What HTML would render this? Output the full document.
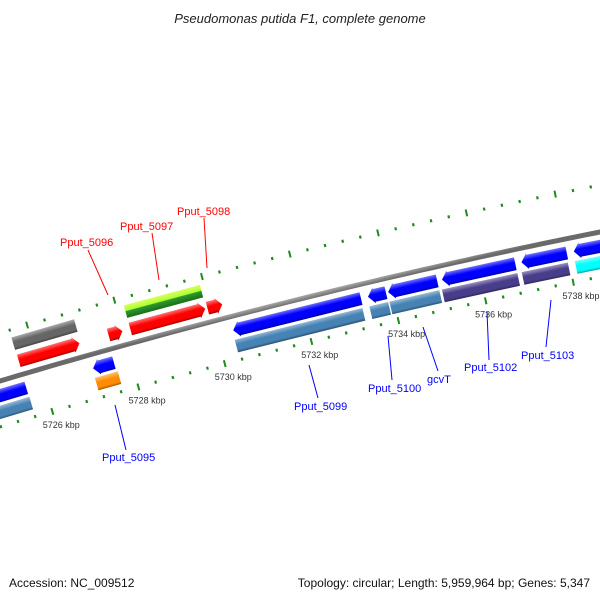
<!DOCTYPE html>
<html><head><meta charset="utf-8"><style>
html,body{margin:0;padding:0;background:#fff;}
svg{display:block;font-family:"Liberation Sans","DejaVu Sans",sans-serif;}
</style></head><body>
<svg id="map" width="600" height="600" viewBox="0 0 600 600" xmlns="http://www.w3.org/2000/svg">
<defs id="defs"></defs>
<rect width="600" height="600" fill="#fff"/>
<text x="300" y="23" text-anchor="middle" font-size="13" font-style="italic" fill="#222">Pseudomonas putida F1, complete genome</text>
<g id="rings"></g>
<g id="feats"></g>
<g id="labels" font-size="11">
 <g><line x1="88" y1="250" x2="108" y2="295" stroke="#f00" stroke-width="1"/><text x="60" y="246" fill="#f00">Pput_5096</text></g>
 <g><line x1="152" y1="233" x2="159" y2="280" stroke="#f00" stroke-width="1"/><text x="120" y="230" fill="#f00">Pput_5097</text></g>
 <g><line x1="204" y1="218" x2="207" y2="268" stroke="#f00" stroke-width="1"/><text x="177" y="215" fill="#f00">Pput_5098</text></g>
 <g><line x1="115" y1="405" x2="126" y2="450" stroke="#00f" stroke-width="1"/><text x="102" y="461" fill="#00f">Pput_5095</text></g>
 <g><line x1="309" y1="365" x2="318" y2="398" stroke="#00f" stroke-width="1"/><text x="294" y="410" fill="#00f">Pput_5099</text></g>
 <g><line x1="388" y1="336" x2="392" y2="380" stroke="#00f" stroke-width="1"/><text x="368" y="392" fill="#00f">Pput_5100</text></g>
 <g><line x1="423" y1="327" x2="438" y2="371" stroke="#00f" stroke-width="1"/><text x="427" y="383" fill="#00f">gcvT</text></g>
 <g><line x1="487" y1="312" x2="489" y2="360" stroke="#00f" stroke-width="1"/><text x="464" y="371" fill="#00f">Pput_5102</text></g>
 <g><line x1="551" y1="300" x2="546" y2="347" stroke="#00f" stroke-width="1"/><text x="521" y="359" fill="#00f">Pput_5103</text></g>
</g>
<text x="9" y="587" font-size="12" fill="#111">Accession: NC_009512</text>
<text x="590" y="587" font-size="12" text-anchor="end" fill="#111">Topology: circular; Length: 5,959,964 bp; Genes: 5,347</text>
</svg>
<script>
// ---- data ----
const tickStart = 5724.8, tickEnd = 5739.6, tickStep = 0.4;
const kbpLabels = [5726, 5728, 5730, 5732, 5734, 5736, 5738];
const featStart = [5725.6, 5727.67, 5728.17, 5729.94, 5725.59, 5728.17, 5724.6, 5727.14, 5730.37, 5733.46, 5733.92, 5735.15, 5736.96, 5738.15, 5724.6, 5727.12, 5730.35, 5733.44, 5733.9, 5735.1, 5736.92, 5738.13];
const featEnd   = [5727.0, 5727.99, 5729.89, 5730.28, 5727.03, 5729.91, 5725.59, 5727.62, 5733.3, 5733.87, 5735.04, 5736.82, 5737.99, 5739.6, 5725.6, 5727.65, 5733.28, 5733.87, 5735.04, 5736.82, 5737.97, 5739.6];
const featTrack = [1,1,1,1,2,2,-1,-1,-1,-1,-1,-1,-1,-1,-2,-2,-2,-2,-2,-2,-2,-2];
const featColor = ["#ff0000","#ff0000","#ff0000","#ff0000","#666666","green","#0000ff","#0000ff","#0000ff","#0000ff","#0000ff","#0000ff","#0000ff","#0000ff","#4682b4","#ff8c00","#4682b4","#4682b4","#4682b4","#483d8b","#483d8b","#00ffff"];
const featShape = ["fwd","fwd","fwd","fwd","box","box","rev","rev","rev","rev","rev","rev","rev","rev","box","box","box","box","box","box","box","box"];
// ---- geometry ----
const NS="http://www.w3.org/2000/svg";
const P1=[0,381],P2=[300,299],P3=[600,232];
function circ(a,b,c){const d=2*(a[0]*(b[1]-c[1])+b[0]*(c[1]-a[1])+c[0]*(a[1]-b[1]));
const s=v=>v[0]*v[0]+v[1]*v[1];
const ux=(s(a)*(b[1]-c[1])+s(b)*(c[1]-a[1])+s(c)*(a[1]-b[1]))/d;
const uy=(s(a)*(c[0]-b[0])+s(b)*(a[0]-c[0])+s(c)*(b[0]-a[0]))/d;return [ux,uy];}
const C=circ(P1,P2,P3);const R=Math.hypot(P1[0]-C[0],P1[1]-C[1]);
function yb(x){return 381-0.2983*x+8.33e-5*x*x;}
const A0=Math.atan2(yb(40)-C[1],40-C[0]);
const xb2=40+12*43.7;const A1=Math.atan2(yb(xb2)-C[1],xb2-C[0]);
const K=(A1-A0)/12;
function ang(k){return A0+(k-5726)*K;}
function pt(k,off){const a=ang(k),r=R+off;return [C[0]+r*Math.cos(a),C[1]+r*Math.sin(a)];}
function mk(tag,attrs,parent){const e=document.createElementNS(NS,tag);for(const k in attrs)e.setAttribute(k,attrs[k]);parent.appendChild(e);return e;}
const rings=document.getElementById('rings'),feats=document.getElementById('feats'),defs=document.getElementById('defs');
// backbone
(function(){let d="";for(let k=5723;k<=5741;k+=0.25){const p=pt(k,0);d+=(d?"L":"M")+p[0].toFixed(2)+","+p[1].toFixed(2);}
const g=mk('linearGradient',{id:'bbg',gradientUnits:'userSpaceOnUse',x1:pt(5732,3)[0],y1:pt(5732,3)[1],x2:pt(5732,-3)[0],y2:pt(5732,-3)[1]},defs);
mk('stop',{offset:0,'stop-color':'#b0b0b0'},g);mk('stop',{offset:0.5,'stop-color':'#8c8c8c'},g);mk('stop',{offset:1,'stop-color':'#6a6a6a'},g);
const bb=mk('path',{d:d,stroke:'url(#bbg)','stroke-width':5,fill:'none'},rings);

})();
// ticks
function ring(off,dir,nm){const g=mk('g',{},rings);


const n=Math.round((tickEnd-tickStart)/tickStep);
for(let i=0;i<=n;i++){const k=+(tickStart+i*tickStep).toFixed(2);const major=Math.abs(k/2-Math.round(k/2))<0.01;
const len=major?7:3;const a=pt(k,off-len/2),b=pt(k,off+len/2);
const t=mk('line',{x1:a[0],y1:a[1],x2:b[0],y2:b[1],stroke:'#1f8a1f','stroke-width':major?2:2.2},g);

}}
ring(46,1,'outer-tick-ring');ring(-44,-1,'inner-tick-ring');
kbpLabels.forEach(k=>{const p=pt(k,-58);const t=mk('text',{x:p[0]+5,y:p[1]+3,'font-size':9,'text-anchor':'middle',fill:'#333'},rings);t.textContent=k+" kbp";

});
// features
const trackOff={1:14,2:32,'-1':-14,'-2':-30};const H=6.5;
function lighten(c,f){const n=parseInt(c.slice(1),16);let r=n>>16,g=(n>>8)&255,b=n&255;
if(f>0){r+=(255-r)*f;g+=(255-g)*f;b+=(255-b)*f;}else{r*=1+f;g*=1+f;b*=1+f;}
return "rgb("+Math.round(r)+","+Math.round(g)+","+Math.round(b)+")";}
featStart.forEach((s,i)=>{const e=featEnd[i],off=trackOff[featTrack[i]],sh=featShape[i];
const head=0.14;let pts=[];
const top=off+H,bot=off-H;
if(sh==="box"){pts=[pt(s,top),pt(e,top),pt(e,bot),pt(s,bot)];}
else if(sh==="fwd"){const hb=Math.max(s,e-head);pts=[pt(s,top),pt(hb,top),pt(hb,top+1.5),pt(e,off),pt(hb,bot-1.5),pt(hb,bot),pt(s,bot)];}
else{const hb=Math.min(e,s+head);pts=[pt(s,off),pt(hb,top+1.5),pt(hb,top),pt(e,top),pt(e,bot),pt(hb,bot),pt(hb,bot-1.5)];}
const m=(s+e)/2;const g1=pt(m,top),g2=pt(m,bot);
const gid='fg'+i;const g=mk('linearGradient',{id:gid,gradientUnits:'userSpaceOnUse',x1:g1[0],y1:g1[1],x2:g2[0],y2:g2[1]},defs);
if(featColor[i]==="green"){mk('stop',{offset:0,'stop-color':'#d8ff60'},g);mk('stop',{offset:0.45,'stop-color':'#adff2f'},g);mk('stop',{offset:0.5,'stop-color':'#2e9b2e'},g);mk('stop',{offset:1,'stop-color':'#1a6e1a'},g);}
else{const c=featColor[i];mk('stop',{offset:0,'stop-color':lighten(c,0.45)},g);mk('stop',{offset:0.4,'stop-color':c},g);mk('stop',{offset:0.8,'stop-color':c},g);mk('stop',{offset:1,'stop-color':lighten(c,-0.35)},g);}
const p=mk('polygon',{points:pts.map(q=>q[0].toFixed(2)+","+q[1].toFixed(2)).join(" "),fill:'url(#'+gid+')'},feats);

});
</script>
</body></html>
